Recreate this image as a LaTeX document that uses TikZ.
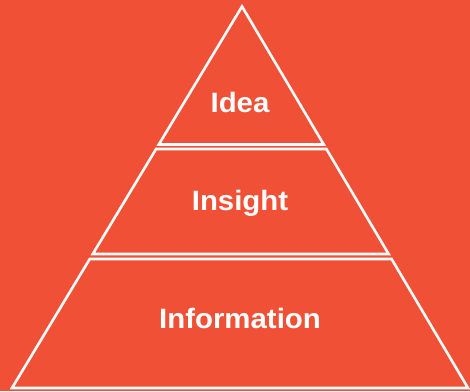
\documentclass[tikz,border=0pt]{standalone}
\usepackage{fontspec}
\setmainfont{Liberation Sans}
\usetikzlibrary{calc}
\definecolor{bgred}{RGB}{240,80,54}
\begin{document}
\begin{tikzpicture}[x=1pt,y=-1pt,
  tier/.style={draw=white,line width=2.6pt,line join=miter},
  label/.style={text=white,font=\fontsize{28}{30}\selectfont\bfseries,xscale=1.05,inner sep=0pt}]
\fill[bgred] (0,0) rectangle (470,391);
\useasboundingbox (0,0) rectangle (470,391);
\coordinate (A) at (242,6.5);
\coordinate (BL) at (12,388);
\coordinate (BR) at (468,388);
% top triangle
\draw[tier] (A) -- ($(A)!0.3617!(BR)$) -- ($(A)!0.3617!(BL)$) -- cycle;
% middle trapezoid
\draw[tier] ($(A)!0.3735!(BL)$) -- ($(A)!0.3735!(BR)$) -- ($(A)!0.6488!(BR)$) -- ($(A)!0.6488!(BL)$) -- cycle;
% bottom trapezoid
\draw[tier] ($(A)!0.6619!(BL)$) -- ($(A)!0.6619!(BR)$) -- (BR) -- (BL) -- cycle;
\node[label] (idea) at (240,102) {Idea};
\node[label] (insight) at (240,203) {Insight};
\node[label] (info) at (240,318) {Information};
\end{tikzpicture}
\end{document}
